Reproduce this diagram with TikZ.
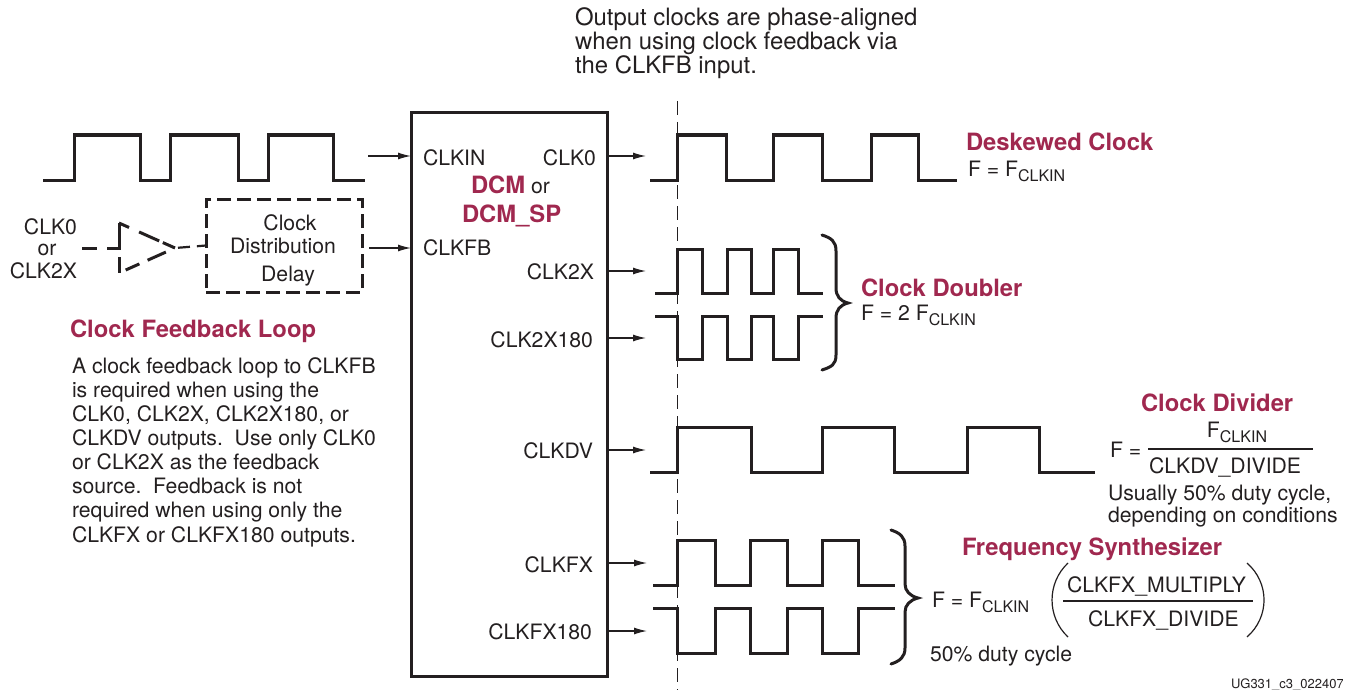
\documentclass[tikz,border=0pt]{standalone}
\usepackage{fontspec}
\setmainfont{TeX Gyre Heros}
\usetikzlibrary{arrows.meta}
\definecolor{ink}{HTML}{231F20}
\definecolor{crim}{HTML}{A0284F}
\newcommand{\sizedtxt}{\fontsize{21.2}{24}\selectfont}
\newcommand{\sizedhead}{\fontsize{23.8}{26}\selectfont}
\newcommand{\fclk}{F{\fontsize{16}{16}\selectfont\raisebox{-5pt}{CLKIN}}}
\tikzset{
  wave/.style={draw=ink,line width=3pt,line join=miter},
  pin/.style={draw=ink,line width=1.2pt,-{Latex[length=13pt,width=7pt]}},
  brace/.style={draw=ink,line width=3pt,line cap=round},
  paren/.style={draw=ink,line width=1.2pt},
  dashline/.style={draw=ink,line width=3pt},
  txt/.style={inner sep=0pt,outer sep=0pt,text=ink,font=\sizedtxt,anchor=base west},
  txtr/.style={txt,anchor=base east},
  txtc/.style={txt,anchor=base},
  head/.style={txt,text=crim,font=\sizedhead\bfseries},
  note/.style={txt,font=\fontsize{23.9}{26}\selectfont},
}
\begin{document}
\begin{tikzpicture}[x=1pt,y=-1pt]
\useasboundingbox (0,0) rectangle (1351,690);
% main block
\node[draw=ink,line width=3pt,minimum width=196pt,minimum height=563pt,inner sep=0pt,outer sep=0pt] (dcm) at (509,394.5) {};
% phase alignment line
\coordinate (phaseT) at (677,101);
\coordinate (phaseB) at (677,690);
\draw[draw=ink,line width=1pt,dash pattern=on 14pt off 7pt] (phaseT) -- (phaseB);
% top note
\node[note] (n1) at (575,26) {Output clocks are phase-aligned};
\node[note] (n2) at (575,50) {when using clock feedback via};
\node[note] (n3) at (575,74) {the CLKFB input.};
% input clock
\draw[wave] (43,180) -- (74,180) -- (74,135) -- (140,135) -- (140,180) -- (170,180) -- (170,135) -- (238,135) -- (238,180) -- (268,180) -- (268,135) -- (333,135) -- (333,180) -- (365,180);
% feedback path
\node[txtr] (fb1) at (77,234) {CLK0};
\node[txtc] (fb2) at (47,255) {or};
\node[txtr] (fb3) at (77,278) {CLK2X};
\node[draw=ink,line width=3pt,dash pattern=on 14pt off 6pt,minimum width=156pt,minimum height=93pt,inner sep=0pt,outer sep=0pt] (delay) at (284,245.5) {};
\node[txtc] (d1) at (290,230) {Clock};
\node[txtc] (d2) at (283,253) {Distribution};
\node[txtc] (d3) at (288,281) {Delay};
\coordinate (bufIn) at (82,248);
\coordinate (bufBase) at (119,248);
\coordinate (bufTop) at (119,223);
\coordinate (bufBot) at (119,273);
\coordinate (bufTip) at (175,248);
\draw[dashline,dash pattern=on 27pt off 7pt on 16pt off 10pt] (bufTop) -- (bufBot);
\draw[dashline,dash pattern=on 11pt off 11pt on 22pt off 4pt on 15pt off 10pt] (bufTop) -- (bufTip);
\draw[dashline,dash pattern=on 0pt off 10pt on 20pt off 9pt on 15pt off 20pt] (bufTip) -- (bufBot);
\draw[dashline,dash pattern=on 15pt off 10pt on 12pt off 10pt] (bufIn) -- (bufBase);
\draw[dashline,line width=2.2pt,dash pattern=on 0pt off 3pt on 12pt off 7pt on 10pt off 10pt] (bufTip) -- (delay.west);
% input pins
\coordinate (inA) at (368,156);
\coordinate (inB) at (369,248);
\draw[pin] (inA) -- (inA -| dcm.west);
\draw[pin] (inB) -- (inB -| dcm.west);
\node[txt] (clkin) at (423,165) {CLKIN};
\node[txt] (clkfb) at (423,255) {CLKFB};
\node[txtr] (clk0) at (596,165) {CLK0};
\node[txt] (dcmA) at (471,193) {\textcolor{crim}{\sizedhead\bfseries DCM} or};
\node[head] (dcmB) at (462,222) {DCM\_SP};
\node[txtr] (clk2x) at (594,279) {CLK2X};
\node[txtr] (clk2x180) at (593,347) {CLK2X180};
\node[txtr] (clkdv) at (593,458) {CLKDV};
\node[txtr] (clkfx) at (593,572) {CLKFX};
\node[txtr] (clkfx180) at (592,639) {CLKFX180};
% output pins
\coordinate (o1) at (646,156);
\coordinate (o2) at (646,271);
\coordinate (o3) at (646,338);
\coordinate (o4) at (646,450);
\coordinate (o5) at (647,563);
\coordinate (o6) at (647,631);
\foreach \p in {o1,o2,o3,o4,o5,o6}{\draw[pin] (\p -| dcm.east) -- (\p);}
% feedback text
\node[head] (fbh) at (70,337) {Clock Feedback Loop};
\node[txt] (p1) at (72,373) {A clock feedback loop to CLKFB};
\node[txt] (p2) at (72,397) {is required when using the};
\node[txt] (p3) at (72,421) {CLK0, CLK2X, CLK2X180, or};
\node[txt] (p4) at (72,445) {CLKDV outputs.\ \ Use only CLK0};
\node[txt] (p5) at (72,469) {or CLK2X as the feedback};
\node[txt] (p6) at (72,493) {source.\ \ Feedback is not};
\node[txt] (p7) at (72,517) {required when using only the};
\node[txt] (p8) at (72,542) {CLKFX or CLKFX180 outputs.};
% output waves
\draw[wave] (650,180) -- (677,180) -- (677,135) -- (726,135) -- (726,180) -- (773,180) -- (773,135) -- (822,135) -- (822,180) -- (871,180) -- (871,135) -- (918,135) -- (918,180) -- (957,180);
\draw[wave] (655,293) -- (677,293) -- (677,249) -- (702,249) -- (702,293) -- (727,293) -- (727,249) -- (751,249) -- (751,293) -- (773,293) -- (773,249) -- (798,249) -- (798,293) -- (823,293);
\draw[wave] (655,316) -- (677,316) -- (677,359) -- (702,359) -- (702,316) -- (727,316) -- (727,359) -- (751,359) -- (751,316) -- (773,316) -- (773,359) -- (798,359) -- (798,316) -- (823,316);
\draw[wave] (650,472) -- (677,472) -- (677,427) -- (751,427) -- (751,472) -- (822,472) -- (822,427) -- (894,427) -- (894,472) -- (967,472) -- (967,427) -- (1039,427) -- (1039,472) -- (1095,472);
\draw[wave] (653,585) -- (677,585) -- (677,540) -- (715,540) -- (715,585) -- (750,585) -- (750,540) -- (787,540) -- (787,585) -- (822,585) -- (822,540) -- (858,540) -- (858,585) -- (895,585);
\draw[wave] (653,608) -- (677,608) -- (677,653) -- (715,653) -- (715,608) -- (750,608) -- (750,653) -- (787,653) -- (787,608) -- (822,608) -- (822,653) -- (858,653) -- (858,608) -- (895,608);
% braces
\draw[brace] (822,235) .. controls (831,238) and (836,241) .. (836,251) -- (836,288) .. controls (836,296) and (840,301) .. (848,303) .. controls (840,305) and (836,310) .. (836,318) -- (836,355) .. controls (836,365) and (831,367) .. (822,370);
\draw[brace] (891,530) .. controls (900,533) and (905,537) .. (905,546) -- (905,584) .. controls (905,591) and (910,596) .. (918,598) .. controls (910,600) and (905,605) .. (905,612) -- (905,648) .. controls (905,657) and (900,661) .. (891,664);
% labels
\node[head] (h1) at (966,150) {Deskewed Clock};
\node[txt] (f1) at (968,176) {F = \fclk};
\node[head] (h2) at (861,296) {Clock Doubler};
\node[txt] (f2) at (861,320) {F = 2 \fclk};
\node[head] (h3) at (1141,411) {Clock Divider};
\node[txtc] (f3n) at (1237,437) {\fclk};
\node[txt] (f3l) at (1110,457) {F =};
\node[txt] (f3d) at (1149,473) {CLKDV\_DIVIDE};
\coordinate (f3a) at (1148,449);
\coordinate (f3b) at (1313,449);
\draw[draw=ink,line width=1.2pt] (f3a) -- (f3b);
\node[txt] (u1) at (1108,500) {Usually 50\% duty cycle,};
\node[txt] (u2) at (1108,522) {depending on conditions};
\node[head] (h4) at (962,555) {Frequency Synthesizer};
\node[txt] (f4) at (932,607) {F = \fclk};
\node[txt] (f4n) at (1067,592) {CLKFX\_MULTIPLY};
\node[txt] (f4d) at (1088,626) {CLKFX\_DIVIDE};
\coordinate (f4a) at (1063,601);
\coordinate (f4b) at (1253,601);
\draw[draw=ink,line width=1.2pt] (f4a) -- (f4b);
\draw[paren] (1068,563) .. controls (1046.7,583) and (1046.7,617) .. (1068,637);
\draw[paren] (1247,563) .. controls (1269.7,583) and (1269.7,617) .. (1247,637);
\node[txt] (d50) at (930,661) {50\% duty cycle};
\begin{scope}
\clip (1200,670) rectangle (1342,690);
\node[txt,font=\fontsize{13}{14}\selectfont] (ug) at (1231,688) {UG331\_c3\_022407};
\end{scope}
\end{tikzpicture}
\end{document}
